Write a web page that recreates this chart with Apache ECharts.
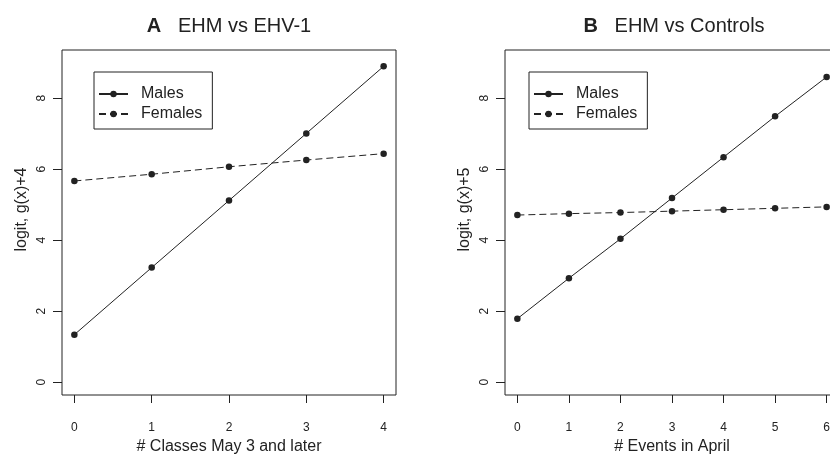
<!DOCTYPE html>
<html>
<head>
<meta charset="utf-8">
<script src="https://cdn.jsdelivr.net/npm/echarts@6/dist/echarts.min.js"></script>
<style>html,body{margin:0;padding:0;background:#fff}#c{width:830px;height:455px}</style>
</head>
<body>
<div id="c"></div>
<script>
// Panel A: EHM vs EHV-1
const xA = [0, 1, 2, 3, 4];
const malesA = [1.34, 3.23, 5.12, 7.01, 8.90];
const femalesA = [5.67, 5.86, 6.07, 6.26, 6.44];
const xTicksA = [0, 1, 2, 3, 4];
// Panel B: EHM vs Controls
const xB = [0, 1, 2, 3, 4, 5, 6];
const malesB = [1.79, 2.93, 4.04, 5.19, 6.34, 7.49, 8.60];
const femalesB = [4.71, 4.75, 4.78, 4.82, 4.86, 4.90, 4.94];
const xTicksB = [0, 1, 2, 3, 4, 5, 6];
const yTicks = [0, 2, 4, 6, 8];
const titlesBold = ['A', 'B'];
const titlesText = ['EHM vs EHV-1', 'EHM vs Controls'];
const xNames = ['# Classes May 3 and later', '# Events in April'];
const yNames = ['logit, g(x)+4', 'logit, g(x)+5'];
const seriesNames = ['Males', 'Females'];

const FONT = '"Liberation Sans", Arial, Helvetica, sans-serif';
const INK = '#222';

const grids = [
  {left: 62, top: 50, width: 334, height: 345},
  {left: 505, top: 50, width: 334, height: 345}
];

function pairs(xs, ys) { return xs.map((x, i) => [x, ys[i]]); }

function xAxisFor(i, ticks) {
  const lo = ticks[0], hi = ticks[ticks.length - 1], pad = (hi - lo) * 0.04;
  return {
    type: 'value', gridIndex: i, min: lo - pad, max: hi + pad, position: 'bottom',
    splitLine: {show: false},
    axisLine: {show: false, onZero: false},
    axisTick: {show: true, inside: false, length: 8, customValues: ticks, lineStyle: {color: INK, width: 1}},
    axisLabel: {show: true, customValues: ticks, margin: 27, fontSize: 12, color: INK, fontFamily: FONT},
    name: xNames[i], nameLocation: 'middle', nameGap: 43,
    nameTextStyle: {fontSize: 16, color: INK, fontFamily: FONT}
  };
}
function yAxisFor(i) {
  const lo = 0, hi = 9, pad = (hi - lo) * 0.04;
  return {
    type: 'value', gridIndex: i, min: lo - pad, max: hi + pad, position: 'left',
    splitLine: {show: false},
    axisLine: {show: false, onZero: false},
    axisTick: {show: true, inside: false, length: 9, customValues: yTicks, lineStyle: {color: INK, width: 1}},
    axisLabel: {show: true, customValues: yTicks, rotate: 90, margin: 14, fontSize: 12, color: INK, fontFamily: FONT},
    name: yNames[i], nameLocation: 'middle', nameGap: 32, nameRotate: 90,
    nameTextStyle: {fontSize: 16, color: INK, fontFamily: FONT, padding: [0, 0, 0, 26]}
  };
}
function lineSeries(name, i, data, dashed) {
  return {
    type: 'line', name: name, xAxisIndex: i, yAxisIndex: i, data: data,
    symbol: 'circle', symbolSize: 6.5, showSymbol: true,
    itemStyle: {color: INK},
    lineStyle: {color: INK, width: 1, type: dashed ? [7, 4] : 'solid'},
    animation: false, silent: true
  };
}

const legends = [
  {left: 94, top: 72},
  {left: 529, top: 72}
].map(p => ({
  left: p.left, top: p.top, orient: 'vertical', data: seriesNames,
  itemWidth: 29, itemHeight: 8, itemGap: 4,
  borderColor: INK, borderWidth: 1, padding: [14, 10, 7, 4],
  selectedMode: false,
  textStyle: {fontSize: 16, color: INK, fontFamily: FONT, padding: [0, 0, 0, 8]}
}));

const titles = [0, 1].map(i => ({
  type: 'text',
  x: i === 0 ? 229 : 674,
  y: 26,
  style: {
    text: '{b|' + titlesBold[i] + '}   ' + titlesText[i],
    fontSize: 20, fontFamily: FONT, fill: INK,
    align: 'center', verticalAlign: 'middle',
    rich: {b: {fontWeight: 'bold', fontSize: 20, fontFamily: FONT, fill: INK}}
  }
}));

const chart = echarts.init(document.getElementById('c'), null, {renderer: 'canvas'});
chart.setOption({
  animation: false,
  backgroundColor: '#fff',
  grid: grids.map(g => Object.assign({show: true, borderColor: INK, borderWidth: 1, backgroundColor: 'transparent', containLabel: false, outerBoundsMode: 'none'}, g)),
  xAxis: [xAxisFor(0, xTicksA), xAxisFor(1, xTicksB)],
  yAxis: [yAxisFor(0), yAxisFor(1)],
  legend: legends,
  graphic: titles,
  series: [
    lineSeries(seriesNames[0], 0, pairs(xA, malesA), false),
    lineSeries(seriesNames[1], 0, pairs(xA, femalesA), true),
    lineSeries(seriesNames[0], 1, pairs(xB, malesB), false),
    lineSeries(seriesNames[1], 1, pairs(xB, femalesB), true)
  ]
});
</script>
</body>
</html>
